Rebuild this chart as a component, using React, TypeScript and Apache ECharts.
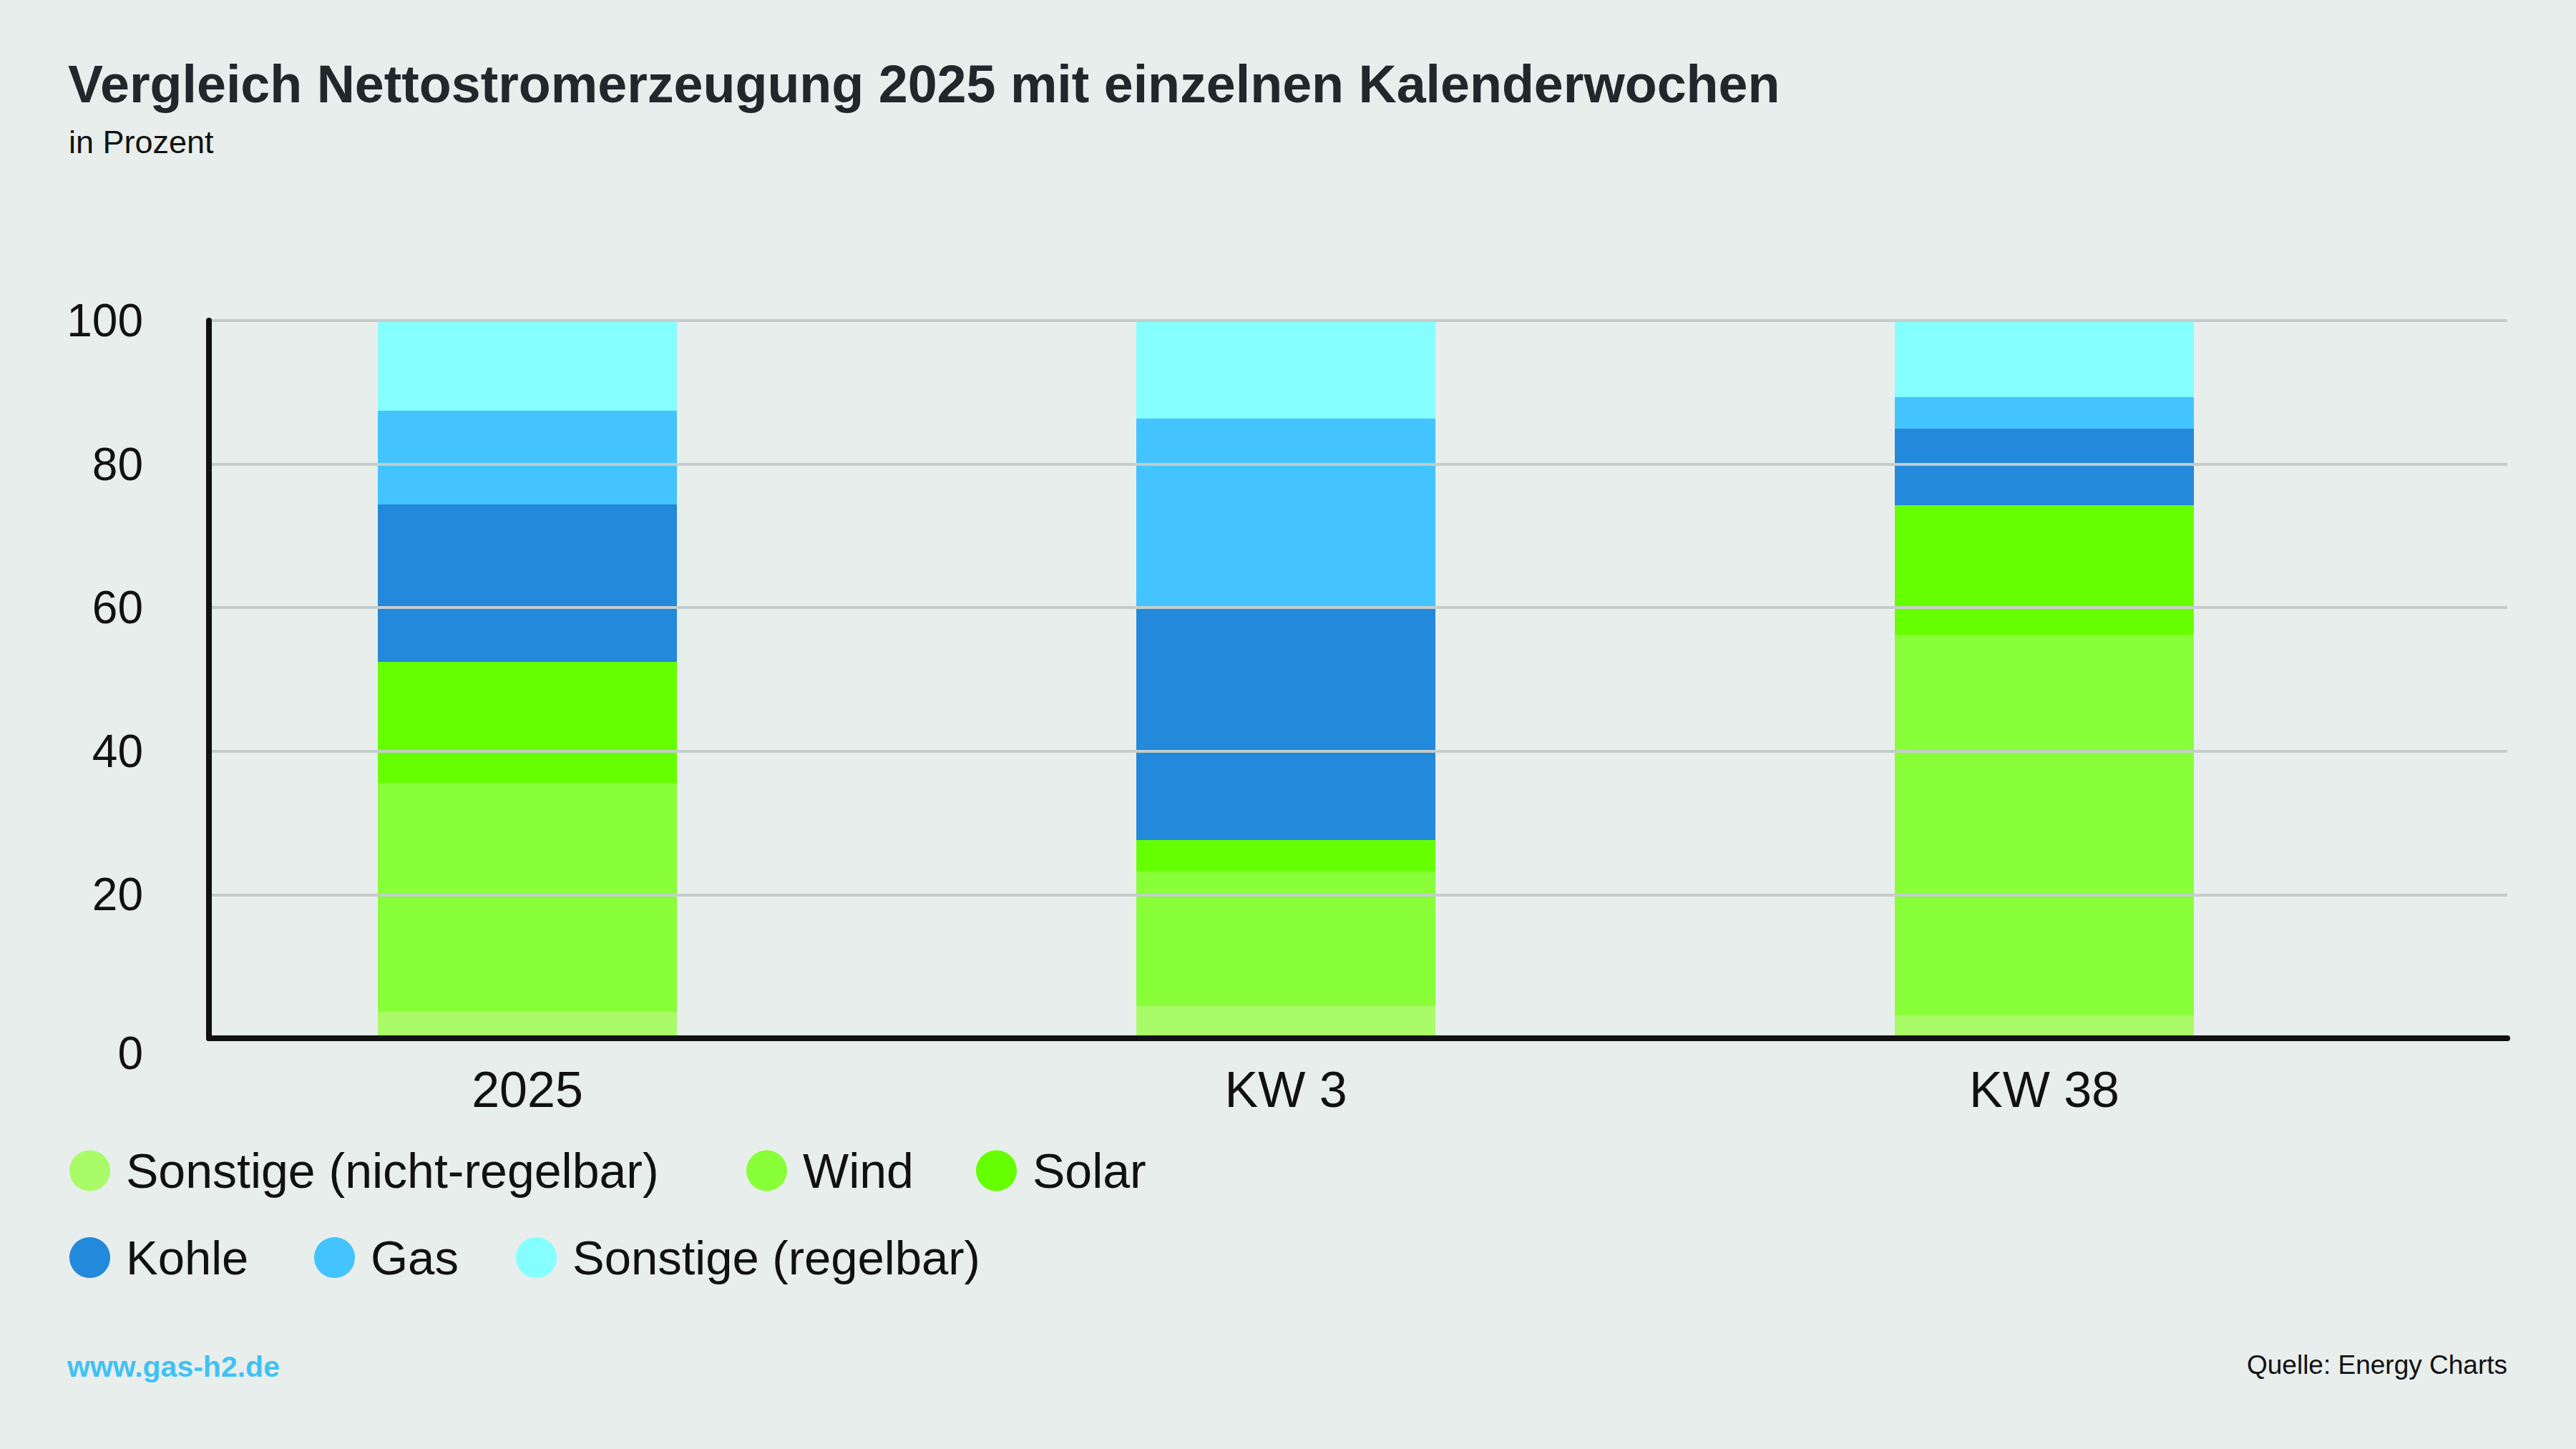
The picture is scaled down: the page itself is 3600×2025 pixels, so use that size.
import React, { useEffect, useRef } from "react";
import * as echarts from "echarts";

const categories = ["2025", "KW 3", "KW 38"];
const seriesNames = [
  "Sonstige (nicht-regelbar)",
  "Wind",
  "Solar",
  "Kohle",
  "Gas",
  "Sonstige (regelbar)",
];
const sonstigeNichtRegelbar = [3.4, 4.2, 2.9];
const wind = [32.0, 18.8, 53.2];
const solar = [16.9, 4.4, 18.1];
const kohle = [22.0, 32.7, 10.7];
const gas = [13.1, 26.2, 4.4];
const sonstigeRegelbar = [12.6, 13.7, 10.7];
const seriesColors = ["#a9fc68", "#88ff38", "#66ff00", "#2389da", "#43c4ff", "#85ffff"];
const yMin = 0;
const yMax = 100;
const yStep = 20;

const titleText = "Vergleich Nettostromerzeugung 2025 mit einzelnen Kalenderwochen";
const subtitleText = "in Prozent";
const footerLeft = "www.gas-h2.de";
const footerRight = "Quelle: Energy Charts";

const FONT = "'Liberation Sans', Arial, Helvetica, sans-serif";

// legend placement (left edge of each marker, row top)
const legendLefts = [92, 1038, 1359, 92, 434, 716];
const legendTops = [1597, 1597, 1597, 1719, 1719, 1719];

export default function App() {
  const ref = useRef<HTMLDivElement>(null);

  useEffect(() => {
    if (!ref.current) return;
    const chart = echarts.init(ref.current, undefined, { renderer: "svg" });
    const values = [sonstigeNichtRegelbar, wind, solar, kohle, gas, sonstigeRegelbar];

    const legends = seriesNames.map((name, i) => ({
      data: [name],
      left: legendLefts[i],
      top: legendTops[i],
      icon: "circle",
      itemWidth: 57,
      itemHeight: 57,
      selectedMode: false,
      textStyle: {
        fontSize: i < 3 ? 68 : 67,
        color: "#111111",
        fontFamily: FONT,
        padding: [0, 0, 0, 17],
      },
    }));

    const option: any = {
      animation: false,
      backgroundColor: "#e8eeec",
      textStyle: { fontFamily: FONT },
      graphic: [
        {
          type: "text",
          left: 95,
          top: 80,
          style: {
            text: titleText,
            font: `bold 73.6px ${FONT}`,
            fill: "#21272a",
          },
        },
        {
          type: "text",
          left: 96,
          top: 176,
          style: {
            text: subtitleText,
            font: `45px ${FONT}`,
            fill: "#111111",
          },
        },
        {
          type: "text",
          left: 94,
          top: 1889,
          style: {
            text: footerLeft,
            font: `bold 41px ${FONT}`,
            fill: "#3fc1f3",
          },
        },
        {
          type: "text",
          right: 96,
          top: 1889,
          style: {
            text: footerRight,
            font: `37px ${FONT}`,
            fill: "#111111",
            align: "right",
          },
        },
      ],
      legend: legends,
      grid: [
        { left: 207, top: 448, width: 3180, height: 1000 },
        { left: 292, top: 448, width: 3212, height: 1003 },
      ],
      xAxis: [
        {
          type: "category",
          gridIndex: 0,
          data: categories,
          axisLine: { show: false },
          axisTick: { show: false },
          axisLabel: {
            fontSize: 70,
            color: "#111111",
            fontFamily: FONT,
            margin: 40,
          },
        },
        {
          type: "value",
          gridIndex: 1,
          min: 0,
          max: 1,
          z: 5,
          axisLine: { show: true, lineStyle: { color: "#111111", width: 8 } },
          axisTick: { show: false },
          axisLabel: { show: false },
          splitLine: { show: false },
        },
      ],
      yAxis: [
        {
          type: "value",
          gridIndex: 0,
          min: yMin,
          max: yMax,
          interval: yStep,
          show: false,
        },
        {
          type: "value",
          gridIndex: 1,
          min: yMin,
          max: yMax,
          interval: yStep,
          z: 5,
          axisLine: { show: true, lineStyle: { color: "#111111", width: 8 } },
          axisTick: { show: false },
          axisLabel: {
            fontSize: 64,
            color: "#111111",
            fontFamily: FONT,
            margin: 92,
            formatter: (v: number) => (v === 0 ? "{z|0}" : String(v)),
            rich: {
              z: { fontSize: 64, color: "#111111", fontFamily: FONT, padding: [42, 0, 0, 0] },
            },
          },
          splitLine: { show: true, lineStyle: { color: "#c5cdcb", width: 4 } },
        },
      ],
      series: seriesNames.map((name, i) => ({
        name,
        type: "bar",
        stack: "total",
        xAxisIndex: 0,
        yAxisIndex: 0,
        barWidth: 418,
        itemStyle: { color: seriesColors[i] },
        data: values[i],
      })),
    };

    chart.setOption(option);
    return () => chart.dispose();
  }, []);

  return (
    <div
      ref={ref}
      style={{ position: "fixed", left: 0, top: 0, width: 3600, height: 2025 }}
    />
  );
}
